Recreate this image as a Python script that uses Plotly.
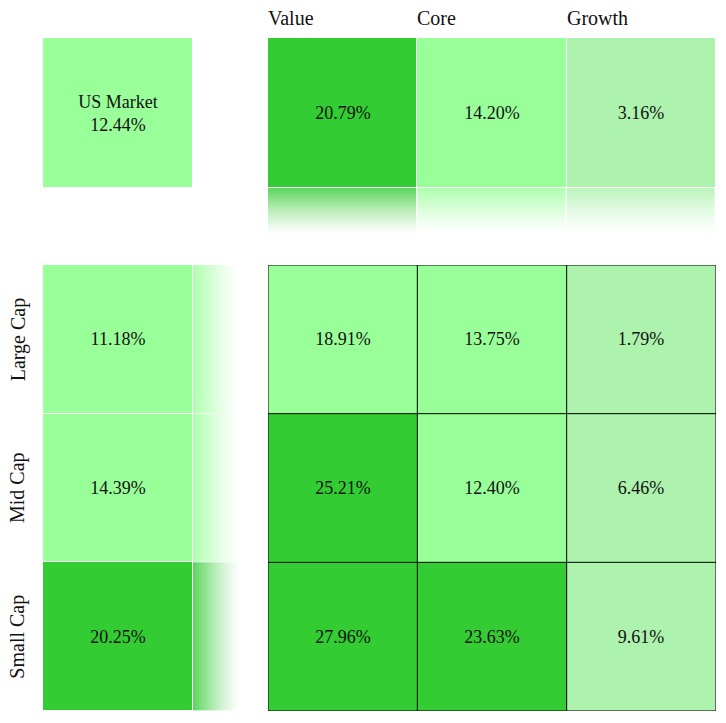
import plotly.graph_objects as go

# ---- data ----
styles = ["Value", "Core", "Growth"]
caps = ["Large Cap", "Mid Cap", "Small Cap"]
market_label = "US Market"
market_value = 12.44
style_totals = [20.79, 14.20, 3.16]
cap_totals = [11.18, 14.39, 20.25]
grid_values = [
    [18.91, 13.75, 1.79],
    [25.21, 12.40, 6.46],
    [27.96, 23.63, 9.61],
]

# ---- styling ----
W, H = 726, 723
OFF = 8  # page body margin
DARK, LIGHT, PALE = "#33CC33", "#99FF99", "#ADF2AD"
ZMIN, ZMAX = 0, 30
T1, T2 = 10, 20
colorscale = [
    [0, PALE], [T1 / ZMAX, PALE],
    [T1 / ZMAX, LIGHT], [T2 / ZMAX, LIGHT],
    [T2 / ZMAX, DARK], [1, DARK],
]
FONT = "'Times New Roman', 'Liberation Serif', Times, serif"
FADE = 0.322  # gradient length in cell units
px = 1 / 149.0


def xd(a, b):
    return [(a - OFF) / W, (b - OFF) / W]


def yd(top, bottom):
    return [(H - (bottom - OFF)) / H, (H - (top - OFF)) / H]


def color_of(v):
    return DARK if v >= T2 else (LIGHT if v >= T1 else PALE)


fig = go.Figure()

common = dict(colorscale=colorscale, zmin=ZMIN, zmax=ZMAX, showscale=False,
              hoverinfo="skip", textfont=dict(family=FONT, size=18, color="#111"))

# main grid
fig.add_trace(go.Heatmap(z=grid_values, x=[0, 1, 2], y=[0, 1, 2],
                         texttemplate="%{z:.2f}%", xaxis="x", yaxis="y", **common))
# top row (style totals)
fig.add_trace(go.Heatmap(z=[style_totals], x=[0, 1, 2], y=[0], xgap=1,
                         texttemplate="%{z:.2f}%", xaxis="x", yaxis="y2", **common))
# left column (cap totals)
fig.add_trace(go.Heatmap(z=[[v] for v in cap_totals], x=[0], y=[0, 1, 2], ygap=1,
                         texttemplate="%{z:.2f}%", xaxis="x2", yaxis="y", **common))
# US market
fig.add_trace(go.Heatmap(z=[[market_value]], x=[0], y=[0],
                         text=[[f"{market_label}<br>{market_value:.2f}%"]],
                         texttemplate="%{text}", xaxis="x2", yaxis="y2", **common))

# fade gradients
N = 30
alphas = [0.8 * (1 - (k + 0.5) / N) ** 1.3 for k in range(N)]
step = (FADE - px) / N
for i, v in enumerate(style_totals):
    c = color_of(v)
    fig.add_trace(go.Heatmap(z=[[a] for a in alphas], x0=i, dx=1,
                             y0=0.5 + px + step / 2, dy=step, xgap=1,
                             colorscale=[[0, "#ffffff"], [1, c]], zmin=0, zmax=1,
                             showscale=False, hoverinfo="skip",
                             xaxis="x", yaxis="y2"))
for j, v in enumerate(cap_totals):
    c = color_of(v)
    fig.add_trace(go.Heatmap(z=[alphas], y0=j, dy=1,
                             x0=0.5 + px + step / 2, dx=step, ygap=1,
                             colorscale=[[0, "#ffffff"], [1, c]], zmin=0, zmax=1,
                             showscale=False, hoverinfo="skip",
                             xaxis="x2", yaxis="y"))

# black grid lines on main grid
for b in [-0.5, 0.5, 1.5, 2.5]:
    fig.add_shape(type="line", xref="x", yref="y", x0=b, x1=b, y0=-0.5, y1=2.5,
                  line=dict(color="black", width=1), layer="above")
    fig.add_shape(type="line", xref="x", yref="y", x0=-0.5, x1=2.5, y0=b, y1=b,
                  line=dict(color="black", width=1), layer="above")

# headers
for i, s in enumerate(styles):
    fig.add_annotation(x=i - 0.5, xref="x", y=1 - (18 - OFF) / H, yref="paper",
                       text=s, showarrow=False, xanchor="left", yanchor="middle",
                       xshift=-2,
                       font=dict(family=FONT, size=20, color="#111"))
for j, c in enumerate(caps):
    fig.add_annotation(x=(18 - OFF) / W, xref="paper", y=j, yref="y",
                       text=c, showarrow=False, textangle=-90,
                       xanchor="center", yanchor="middle",
                       font=dict(family=FONT, size=20, color="#111"))

ax = dict(showgrid=False, zeroline=False, showticklabels=False, ticks="",
          showline=False, fixedrange=True)
fig.update_layout(
    width=W, height=H, margin=dict(l=0, r=0, t=0, b=0),
    paper_bgcolor="white", plot_bgcolor="white",
    font=dict(family=FONT),
    xaxis=dict(domain=xd(268, 716), range=[-0.5, 2.5], **ax),
    yaxis=dict(domain=yd(265, 711), range=[2.5, -0.5], **ax),
    xaxis2=dict(domain=xd(43, 240), range=[-0.5, 0.5 + FADE], anchor="y", **ax),
    yaxis2=dict(domain=yd(38, 235), range=[0.5 + FADE, -0.5], anchor="x", **ax),
    showlegend=False,
)

fig.write_html("out.html")
